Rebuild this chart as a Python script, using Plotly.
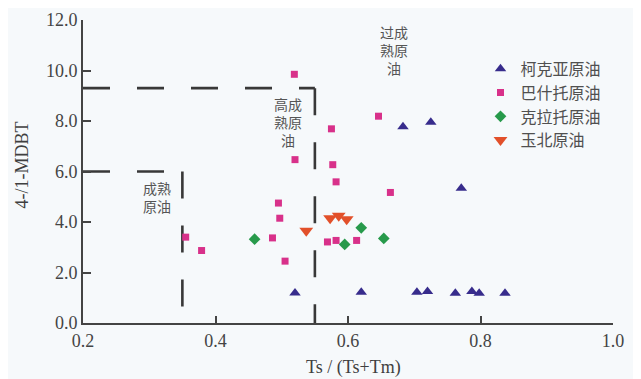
import plotly.graph_objects as go

# ---- data ----
keya_x = [0.520, 0.620, 0.704, 0.720, 0.762, 0.787, 0.798, 0.837, 0.683, 0.725, 0.771]
keya_y = [1.19, 1.22, 1.22, 1.25, 1.18, 1.25, 1.18, 1.18, 7.77, 7.95, 5.34]

bashi_x = [0.519, 0.520, 0.646, 0.575, 0.577, 0.582, 0.664, 0.495, 0.497, 0.355, 0.379,
           0.486, 0.505, 0.569, 0.582, 0.613]
bashi_y = [9.85, 6.47, 8.19, 7.69, 6.27, 5.59, 5.17, 4.75, 4.15, 3.40, 2.87,
           3.37, 2.45, 3.21, 3.27, 3.27]

kela_x = [0.459, 0.595, 0.620, 0.654]
kela_y = [3.32, 3.11, 3.77, 3.35]

yubei_x = [0.537, 0.573, 0.586, 0.598]
yubei_y = [3.65, 4.15, 4.25, 4.11]

series_names = ["柯克亚原油", "巴什托原油", "克拉托原油", "玉北原油"]

# maturity boundaries
mature_x, mature_y = 0.35, 6.0
high_x, high_y = 0.55, 9.3

zone_labels = ["成熟<br>原油", "高成<br>熟原<br>油", "过成<br>熟原<br>油"]
zone_x = [0.311, 0.509, 0.670]
zone_y = [5.0, 7.95, 10.8]

x_ticks = [0.2, 0.4, 0.6, 0.8, 1.0]
y_ticks = [0, 2, 4, 6, 8, 10, 12]

bg = "#f6f9fb"
axis_col = "#444444"
cjk = "Noto Sans CJK SC"
serif = "Liberation Serif"

fig = go.Figure()
fig.add_trace(go.Scatter(x=keya_x, y=keya_y, mode="markers", name=series_names[0],
                         marker=dict(symbol="triangle-up", size=10, color="#372c8c")))
fig.add_trace(go.Scatter(x=bashi_x, y=bashi_y, mode="markers", name=series_names[1],
                         marker=dict(symbol="square", size=7, color="#d8318a")))
fig.add_trace(go.Scatter(x=kela_x, y=kela_y, mode="markers", name=series_names[2],
                         marker=dict(symbol="diamond", size=9, color="#279a4b")))
fig.add_trace(go.Scatter(x=yubei_x, y=yubei_y, mode="markers", name=series_names[3],
                         marker=dict(symbol="triangle-down", size=12, color="#e2502a")))

x0 = x_ticks[0]
dash_line = dict(color="#383838", width=2.6, dash="27px,27px")
for bx, by in [(mature_x, mature_y), (high_x, high_y)]:
    fig.add_shape(type="line", x0=x0, y0=by, x1=bx, y1=by, line=dash_line, layer="below")
    fig.add_shape(type="line", x0=bx, y0=by, x1=bx, y1=0, line=dash_line, layer="below")

for t, xx, yy in zip(zone_labels, zone_x, zone_y):
    fig.add_annotation(x=xx, y=yy, text=t, showarrow=False,
                       font=dict(family=cjk, size=14, color="#555555"), align="center")

# axis titles as annotations (placed like the reference)
fig.add_annotation(xref="paper", yref="paper", x=-0.115, y=0.52, text="4-/1-MDBT",
                   textangle=-90, showarrow=False, xanchor="center", yanchor="middle",
                   font=dict(family=serif, size=18, color="#3f3f3f"))
fig.add_annotation(xref="paper", yref="paper", x=0.51, y=-0.148, text="Ts / (Ts+Tm)",
                   showarrow=False, xanchor="center", yanchor="middle",
                   font=dict(family=serif, size=18, color="#3f3f3f"))

fig.update_layout(
    width=641, height=379,
    margin=dict(l=75, r=36, t=12, b=64),
    paper_bgcolor=bg, plot_bgcolor=bg,
    showlegend=True,
    legend=dict(x=0.75, y=0.895, xanchor="left", yanchor="top",
                bgcolor="rgba(0,0,0,0)", font=dict(family=cjk, size=16, color="#505050"),
                itemwidth=30),
    xaxis=dict(range=[0.2, 1.0], tickvals=x_ticks, ticktext=[f"{v:.1f}" for v in x_ticks],
               showgrid=False, zeroline=False, showline=True, linecolor=axis_col, linewidth=2,
               ticks="inside", ticklen=7, tickwidth=2, tickcolor=axis_col, automargin=False,
               tickfont=dict(family=serif, size=18, color="#444444")),
    yaxis=dict(range=[0, 12], tickvals=y_ticks, ticktext=[f"{v:.1f}" for v in y_ticks],
               showgrid=False, zeroline=False, showline=True, linecolor=axis_col, linewidth=2,
               ticks="inside", ticklen=8, tickwidth=2, tickcolor=axis_col, automargin=False,
               tickfont=dict(family=serif, size=18, color="#444444")),
)

fig.write_html("out.html")
